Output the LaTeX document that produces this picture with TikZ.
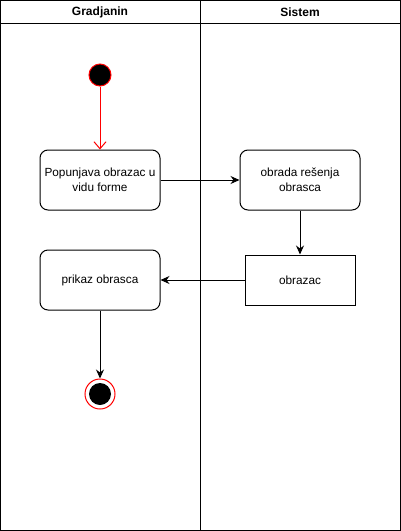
\documentclass[tikz,border=0pt]{standalone}
\usepackage{fontspec}
\setmainfont{Liberation Sans}
\usetikzlibrary{arrows.meta}
\begin{document}
\begin{tikzpicture}[x=1pt,y=-1pt,>={Stealth[length=9pt,width=8pt]},line width=1pt,
  act/.style={draw,rounded corners=8pt,minimum width=120pt,minimum height=60pt,
    align=center,inner sep=1pt,font=\fontsize{11.8}{15}\selectfont},
  obj/.style={draw,minimum width=110pt,minimum height=50pt,font=\fontsize{11.8}{15}\selectfont},
  lane/.style={font=\bfseries\fontsize{12}{14}\selectfont}]
 \useasboundingbox (0,0) rectangle (401,531);
 % swimlanes
 \draw (0.5,0.5) rectangle (400.5,530.5);
 \draw (0.5,23.5) -- (400.5,23.5);
 \draw (200.5,0.5) -- (200.5,530.5);
 \node[lane] (gradjanin) at (100,12) {Gradjanin};
 \node[lane] (sistem) at (300,12) {Sistem};
 % activities
 \node[circle,fill=black,draw=red,minimum size=22pt,inner sep=0pt] (start) at (100,75) {};
 \node[act] (popunjava) at (100,180) {Popunjava obrazac u\\vidu forme};
 \node[act] (obrada) at (300,180) {obrada rešenja\\obrasca};
 \node[obj] (obrazac) at (300,280) {obrazac};
 \node[act] (prikaz) at (100,280) {prikaz obrasca};
 \node[circle,draw=red,minimum size=30pt,inner sep=0pt] (end) at (100,394) {};
 \node[circle,fill=black,minimum size=22pt,inner sep=0pt] at (end) {};
 % flows
 \draw[red,-{Straight Barb[length=7pt,width=12pt]}] (start) -- (popunjava);
 \draw[->] (popunjava) -- (obrada);
 \draw[->] (obrada) -- (obrazac);
 \draw[->] (obrazac) -- (prikaz);
 \draw[->] (prikaz) -- (end);
\end{tikzpicture}
\end{document}
